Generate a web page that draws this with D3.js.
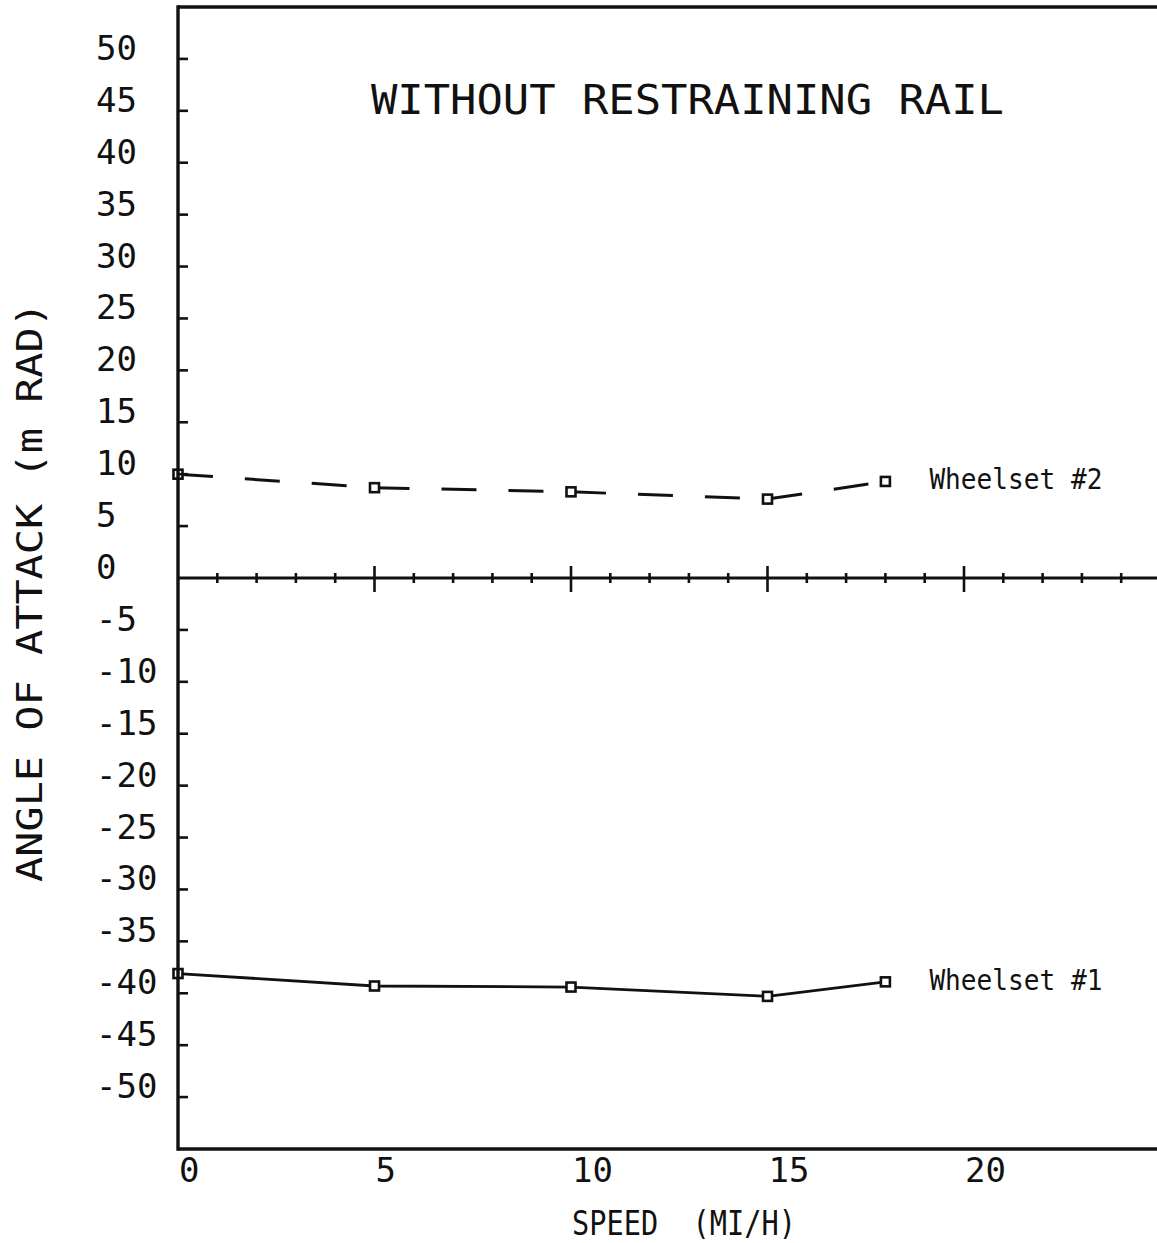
<!DOCTYPE html>
<html>
<head>
<meta charset="utf-8">
<script src="https://cdn.jsdelivr.net/npm/d3@7"></script>
<style>
  body { margin: 0; background: #fff; }
  text { font-family: "DejaVu Sans Mono", monospace; fill: #111; }
</style>
</head>
<body>
<div id="chart"></div>
<script>
/* Data */
const speeds = [0, 5, 10, 15, 18];
const wheelset2 = [10.0, 8.7, 8.3, 7.6, 9.3];
const wheelset1 = [-38.1, -39.3, -39.4, -40.3, -38.9];
const seriesNames = ["Wheelset #2", "Wheelset #1"];
const xTickLabels = [0, 5, 10, 15, 20];
const yTickLabels = [50, 45, 40, 35, 30, 25, 20, 15, 10, 5, 0, -5, -10, -15, -20, -25, -30, -35, -40, -45, -50];

/* Dimensions */
const W = 1157, H = 1243;
const ink = "#111";

function makeGraph() {
  var svg = d3.select("#chart").append("svg")
    .attr("width", W)
    .attr("height", H);

  // Scales
  var x = d3.scaleLinear().domain([0, 25]).range([178, 1160.5]);
  var y = d3.scaleLinear().domain([-55, 55]).range([1149, 7]);

  /* Series */
  var series = [
    { name: seriesNames[0], values: wheelset2, dashed: true },
    { name: seriesNames[1], values: wheelset1, dashed: false }
  ];

  var line = d3.line().x(d => x(d[0])).y(d => y(d[1]));

  series.forEach(function(s) {
    var pts = speeds.map((v, i) => [v, s.values[i]]);

    if (s.dashed) {
      // dash pattern restarts at every point, like the plotter did
      d3.pairs(pts).forEach(function(p) {
        svg.append("path")
          .attr("d", line(p))
          .attr("fill", "none")
          .attr("stroke", ink)
          .attr("stroke-width", 3)
          .attr("stroke-dasharray", "35,32");
      });
    } else {
      svg.append("path")
        .attr("d", line(pts))
        .attr("fill", "none")
        .attr("stroke", ink)
        .attr("stroke-width", 2.8);
    }

    svg.selectAll(null)
      .data(pts)
      .enter().append("rect")
        .attr("x", d => x(d[0]) - 4.5)
        .attr("y", d => y(d[1]) - 4.5)
        .attr("width", 9)
        .attr("height", 9)
        .attr("fill", "#fff")
        .attr("stroke", ink)
        .attr("stroke-width", 2.6);

    var last = pts[pts.length - 1];
    svg.append("text")
      .attr("x", x(last[0]) + 44)
      .attr("y", y(last[1]) + 8)
      .attr("font-size", 29)
      .attr("textLength", 173)
      .attr("lengthAdjust", "spacingAndGlyphs")
      .text(s.name);
  });

  /* Frame */
  var frame = svg.append("g")
    .attr("stroke", ink)
    .attr("stroke-width", 3.4)
    .attr("fill", "none");

  frame.append("line")
    .attr("x1", x(0)).attr("x2", W)
    .attr("y1", y(55)).attr("y2", y(55));
  frame.append("line")
    .attr("x1", x(0)).attr("x2", W)
    .attr("y1", y(-55)).attr("y2", y(-55));
  frame.append("line")
    .attr("x1", x(0)).attr("x2", x(0))
    .attr("y1", y(55) - 1.7).attr("y2", y(-55) + 1.7);
  frame.append("line")
    .attr("x1", x(0)).attr("x2", W)
    .attr("y1", y(0)).attr("y2", y(0))
    .attr("stroke-width", 3);

  /* Y ticks and labels */
  var yTicks = yTickLabels.filter(d => d != 0);
  svg.selectAll(null)
    .data(yTicks)
    .enter().append("line")
      .attr("x1", x(0)).attr("x2", x(0) + 10)
      .attr("y1", d => y(d)).attr("y2", d => y(d))
      .attr("stroke", ink)
      .attr("stroke-width", 2.6);

  svg.selectAll(null)
    .data(yTickLabels)
    .enter().append("text")
      .attr("x", 96)
      .attr("y", d => y(d) + 1)
      .attr("font-size", 34)
      .text(d => d);

  /* X ticks on zero line */
  var minor = x.ticks(25).filter(d => d > 0 && d < 25);
  svg.selectAll(null)
    .data(minor)
    .enter().append("line")
      .attr("x1", d => x(d)).attr("x2", d => x(d))
      .attr("y1", d => y(0) - (d % 5 == 0 ? 12 : 5))
      .attr("y2", d => y(0) + (d % 5 == 0 ? 14 : 5))
      .attr("stroke", ink)
      .attr("stroke-width", 2.6);

  svg.selectAll(null)
    .data(xTickLabels)
    .enter().append("text")
      .attr("x", d => x(d) + 1)
      .attr("y", 1182)
      .attr("font-size", 34)
      .text(d => d);

  /* Titles */
  svg.append("text")
    .attr("x", 371)
    .attr("y", 114)
    .attr("font-size", 41)
    .attr("textLength", 633)
    .attr("lengthAdjust", "spacingAndGlyphs")
    .text("WITHOUT RESTRAINING RAIL");

  svg.append("text")
    .attr("x", 572)
    .attr("y", 1235)
    .attr("font-size", 33)
    .attr("textLength", 224)
    .attr("lengthAdjust", "spacingAndGlyphs")
    .attr("xml:space", "preserve")
    .style("white-space", "pre")
    .text("SPEED  (MI/H)");

  svg.append("text")
    .attr("transform", "translate(42,882) rotate(-90)")
    .attr("font-size", 35)
    .attr("textLength", 580)
    .attr("lengthAdjust", "spacingAndGlyphs")
    .text("ANGLE OF ATTACK (m RAD)");
};

makeGraph();
</script>
</body>
</html>
